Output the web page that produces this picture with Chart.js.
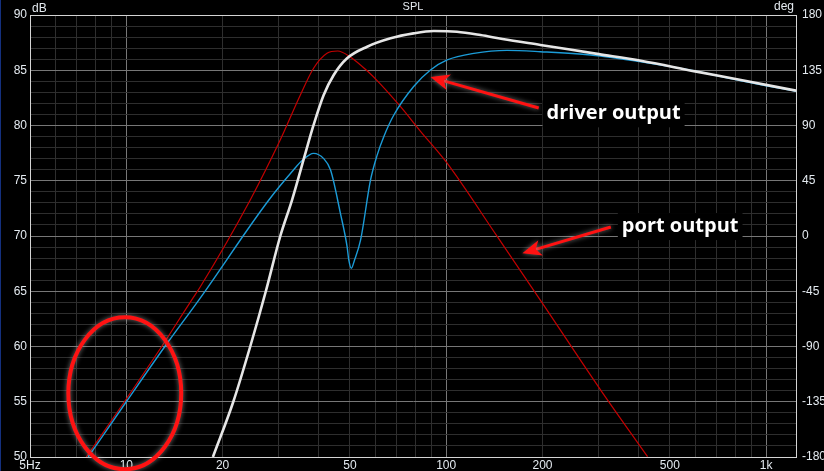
<!DOCTYPE html>
<html>
<head>
<meta charset="utf-8">
<script src="https://cdn.jsdelivr.net/npm/chart.js@4.4.1/dist/chart.umd.min.js"></script>
<style>
    html, body { margin: 0; padding: 0; background: #000; }
    #splChart { display: block; }
</style>
</head>
<body>
<canvas id="splChart" width="824" height="471"></canvas>
<script>
// Total SPL (white)
const totalFreq = [18.65, 21.6, 24.4, 27.3, 30.3, 33.0, 36.3, 38.5, 41.4, 44.5, 49, 56.6, 67, 79, 91.5, 108, 128, 150, 197, 300, 406, 600, 834, 1240];
const totalSpl  = [50, 55, 60, 65, 70, 73.3, 77.5, 80.05, 82.76, 84.57, 86.08, 87.13, 87.89, 88.34, 88.55, 88.49, 88.19, 87.83, 87.29, 86.46, 85.86, 84.9, 84.12, 83.15];

// Driver output (cyan)
const driverFreq = [7.6, 10, 13.2, 17, 27.9, 33.3, 35.5, 38.5, 41.4, 43.5, 46.7, 49, 49.6, 50.5, 51.7, 54, 58, 60.8, 63.8, 68.6, 79, 89.3, 100.7, 122, 155, 197, 283, 406, 582, 834, 1240];
const driverSpl  = [50, 55, 60, 64.36, 73.26, 75.97, 76.85, 77.48, 77.0, 75.97, 72.05, 69.03, 67.83, 67.08, 67.83, 69.64, 75.07, 77.3, 78.99, 80.95, 83.51, 85.02, 85.93, 86.53, 86.8, 86.68, 86.38, 85.77, 85.0, 84.05, 83.1];

// Port output (red)
const portFreq = [7.5, 10, 12.9, 16.0, 17.0, 24.4, 30.3, 35, 38.5, 42.4, 45.8, 50, 56.6, 62.3, 72, 83, 100, 144.5, 200, 304, 426];
const portSpl  = [50, 55.25, 60, 64.2, 65.36, 73.26, 78.7, 82.76, 85.18, 86.53, 86.74, 86.23, 84.95, 83.75, 81.7, 79.5, 76.7, 69.94, 63.91, 56.06, 50.03];

// Axes
const freqGrid = [5, 6, 7, 8, 9, 10, 20, 30, 40, 50, 60, 70, 80, 90, 100, 200, 300, 400, 500, 600, 700, 800, 900, 1000];
const freqMajor = [10, 100, 1000];
const freqLabelValues = [5, 10, 20, 50, 100, 200, 500, 1000];
const freqLabelText = ['5Hz', '10', '20', '50', '100', '200', '500', '1k'];

const colors = {
    bg: '#000000',
    gridMinor: '#2e2e2e',
    gridMajor: '#777777',
    border: '#d4d4d4',
    tick: '#e4eaf0',
    total: '#e6e6e6',
    driver: '#1b9cd8',
    port: '#c40000',
    mark: '#ff1212'
};

const toPoints = (xs, ys) => xs.map((x, i) => ({ x: x, y: ys[i] }));

// Overlay drawing: background, frame, titles and red annotations
const overlayPlugin = {
    id: 'overlay',
    beforeDraw(chart) {
        const ctx = chart.ctx;
        ctx.save();
        ctx.fillStyle = colors.bg;
        ctx.fillRect(0, 0, chart.width, chart.height);
        ctx.fillStyle = '#14307e';
        ctx.fillRect(0, 0, 1, chart.height);
        ctx.restore();
    },
    afterDraw(chart) {
        const ctx = chart.ctx;
        const area = chart.chartArea;
        const xs = chart.scales.x;
        const ys = chart.scales.y;
        const px = f => xs.getPixelForValue(f);
        const py = v => ys.getPixelForValue(v);

        ctx.save();
        // frame
        ctx.strokeStyle = colors.border;
        ctx.lineWidth = 1;
        ctx.strokeRect(Math.round(area.left) + 0.5, Math.round(area.top) + 0.5,
            Math.round(area.right - area.left), Math.round(area.bottom - area.top));

        // titles
        ctx.fillStyle = colors.tick;
        ctx.font = '11px "Liberation Sans", Arial, sans-serif';
        ctx.textBaseline = 'alphabetic';
        ctx.textAlign = 'center';
        ctx.fillText('SPL', (area.left + area.right) / 2, 10);
        ctx.textAlign = 'left';
        ctx.font = '12px "Liberation Sans", Arial, sans-serif';
        ctx.fillText('dB', area.left + 2, 12);
        ctx.textAlign = 'right';
        ctx.fillText('deg', area.right - 2, 10);

        // ellipse
        ctx.shadowColor = 'rgba(170,170,170,0.7)';
        ctx.shadowBlur = 5;
        ctx.strokeStyle = colors.mark;
        ctx.lineWidth = 4;
        const ex1 = px(6.59), ex2 = px(14.85), ey1 = py(62.64), ey2 = py(48.89);
        ctx.beginPath();
        ctx.ellipse((ex1 + ex2) / 2, (ey1 + ey2) / 2, (ex2 - ex1) / 2, (ey2 - ey1) / 2, 0, 0, Math.PI * 2);
        ctx.stroke();

        // arrows
        drawArrow(ctx, px(194.6), py(81.58), px(89.3), py(84.39));
        drawArrow(ctx, px(327), py(70.81), px(173), py(68.43));
        ctx.shadowColor = 'transparent';
        ctx.shadowBlur = 0;

        // labels
        drawLabel(ctx, 'driver output', px(206), py(81.1));
        drawLabel(ctx, 'port output', px(354), py(70.9));
        ctx.restore();
    }
};

function drawArrow(ctx, x1, y1, x2, y2) {
    const a = Math.atan2(y2 - y1, x2 - x1);
    const len = 19, half = 8, notch = 14;
    const bx = x2 - Math.cos(a) * notch;
    const by = y2 - Math.sin(a) * notch;
    ctx.strokeStyle = colors.mark;
    ctx.fillStyle = colors.mark;
    ctx.lineWidth = 3;
    ctx.beginPath();
    ctx.moveTo(x1, y1);
    ctx.lineTo(bx, by);
    ctx.stroke();
    ctx.beginPath();
    ctx.moveTo(x2, y2);
    ctx.lineTo(x2 - Math.cos(a) * len - Math.sin(a) * half, y2 - Math.sin(a) * len + Math.cos(a) * half);
    ctx.lineTo(bx, by);
    ctx.lineTo(x2 - Math.cos(a) * len + Math.sin(a) * half, y2 - Math.sin(a) * len - Math.cos(a) * half);
    ctx.closePath();
    ctx.fill();
}

function drawLabel(ctx, text, x, y) {
    ctx.font = 'bold 20px "Open Sans", "DejaVu Sans", sans-serif';
    const w = ctx.measureText(text).width;
    ctx.fillStyle = '#000000';
    ctx.fillRect(x - 4, y - 13, w + 8, 27);
    ctx.fillStyle = '#ffffff';
    ctx.textAlign = 'left';
    ctx.textBaseline = 'middle';
    ctx.fillText(text, x, y);
}

const tickFont = { family: '"Liberation Sans", Arial, sans-serif', size: 12 };

new Chart(document.getElementById('splChart'), {
    type: 'line',
    data: {
        datasets: [
            { label: 'Total', data: toPoints(totalFreq, totalSpl), borderColor: colors.total, borderWidth: 2.6 },
            { label: 'Driver output', data: toPoints(driverFreq, driverSpl), borderColor: colors.driver, borderWidth: 1.4 },
            { label: 'Port output', data: toPoints(portFreq, portSpl), borderColor: colors.port, borderWidth: 1.2 }
        ]
    },
    options: {
        responsive: false,
        animation: false,
        layout: { padding: { top: 15, left: 0, right: 0, bottom: 0 } },
        elements: {
            point: { radius: 0 },
            line: { cubicInterpolationMode: 'monotone', fill: false }
        },
        plugins: {
            legend: { display: false },
            tooltip: { enabled: false }
        },
        scales: {
            x: {
                type: 'logarithmic',
                min: 5,
                max: 1240,
                afterBuildTicks: scale => {
                    scale.ticks = freqGrid.map(v => ({ value: v }));
                },
                afterFit: scale => { scale.height = 14; },
                grid: {
                    color: ctx => freqMajor.includes(ctx.tick && ctx.tick.value) ? colors.gridMajor : colors.gridMinor,
                    drawTicks: false
                },
                border: { color: colors.border },
                ticks: {
                    autoSkip: false,
                    maxRotation: 0,
                    padding: 1,
                    color: colors.tick,
                    font: tickFont,
                    callback: value => {
                        const i = freqLabelValues.indexOf(value);
                        return i >= 0 ? freqLabelText[i] : '';
                    }
                }
            },
            y: {
                position: 'left',
                min: 50,
                max: 90,
                afterFit: scale => { scale.width = 30; },
                grid: {
                    color: ctx => (ctx.tick && ctx.tick.value % 5 === 0) ? colors.gridMajor : colors.gridMinor,
                    drawTicks: false
                },
                border: { color: colors.border },
                ticks: {
                    stepSize: 1,
                    autoSkip: false,
                    padding: 3,
                    color: colors.tick,
                    font: tickFont,
                    callback: value => value % 5 === 0 ? value : ''
                }
            },
            yPhase: {
                position: 'right',
                min: -180,
                max: 180,
                afterFit: scale => { scale.width = 28; },
                grid: { drawOnChartArea: false, drawTicks: false },
                border: { color: colors.border },
                ticks: {
                    stepSize: 45,
                    autoSkip: false,
                    padding: 6,
                    color: colors.tick,
                    font: tickFont
                }
            }
        }
    },
    plugins: [overlayPlugin]
});
</script>
</body>
</html>
